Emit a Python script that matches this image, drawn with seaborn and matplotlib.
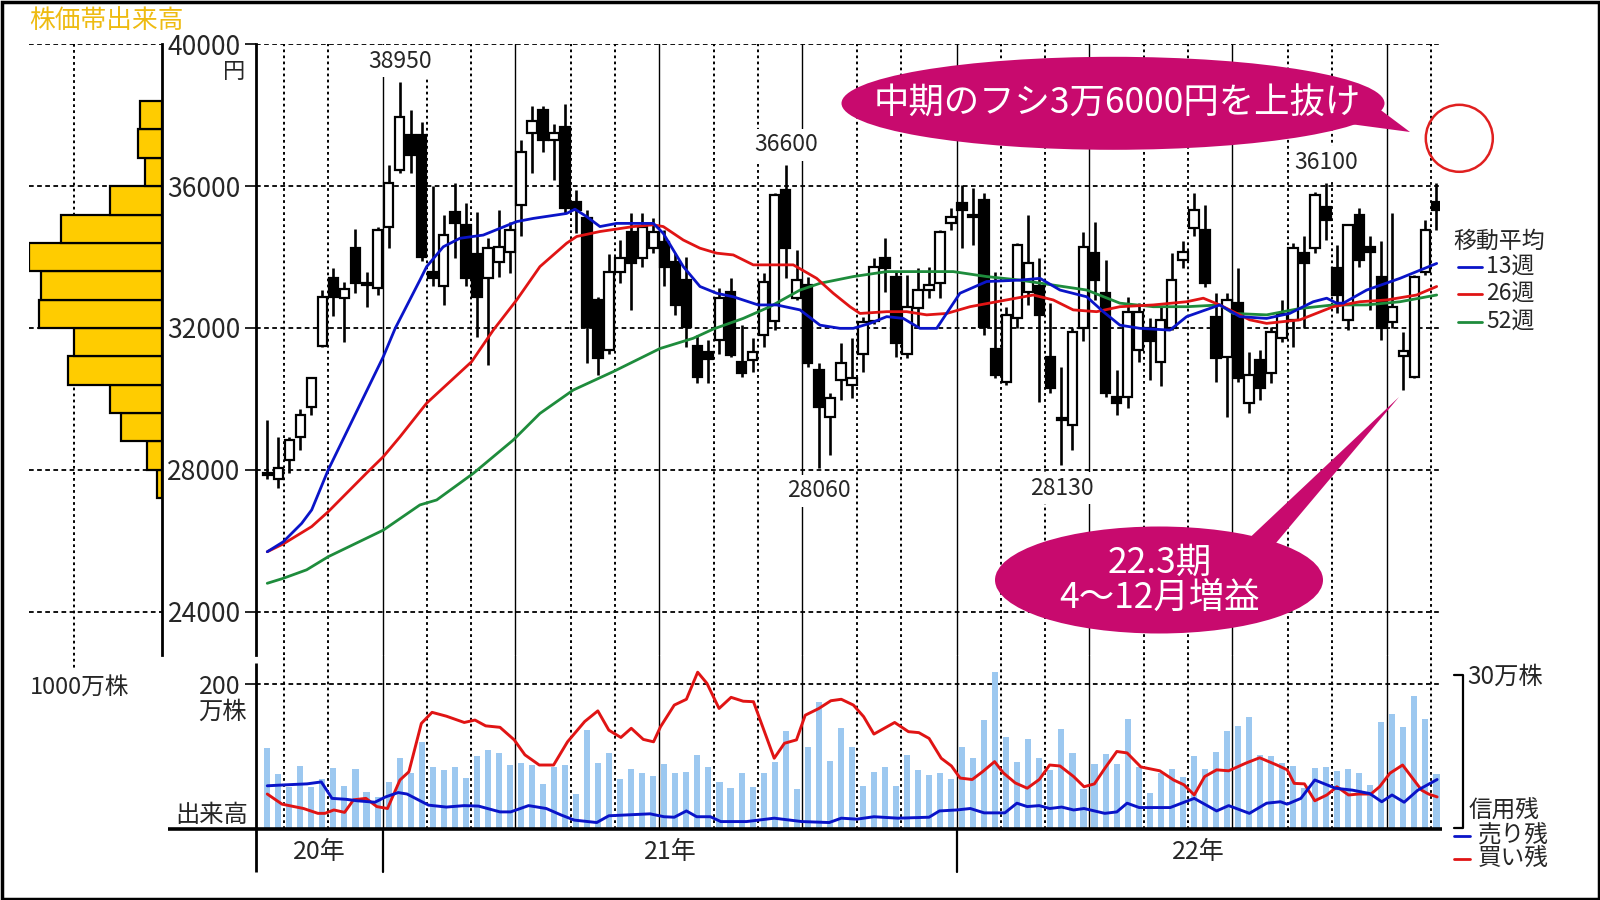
import numpy as np
import matplotlib
matplotlib.use('Agg')
import matplotlib.pyplot as plt
import seaborn as sns
from matplotlib.patches import Ellipse, Polygon, Circle, Rectangle

sns.set_theme(style='white')
plt.rcParams['font.family'] = ['Noto Sans CJK JP', 'DejaVu Sans']

# ---- weekly candles (yen) ----
opens = [27900, 27730, 28280, 28930, 29780, 31490, 33400, 32850, 34250, 33250,
         33120, 34860, 36450, 37440, 37440, 33590, 33170, 35280, 34900, 34100,
         33400, 33870, 34150, 35470, 37490, 38150, 37300, 37680, 35560, 35090,
         32780, 31370, 33590, 34720, 33970, 34250, 34430, 33870, 33350, 31480,
         31320, 31660, 33020, 31040, 31100, 31800, 32190, 35890, 32840, 33210,
         30820, 29500, 30530, 30390, 31280, 32200, 33970, 33450, 31280, 32560,
         33070, 33260, 34950, 35520, 35150, 35610, 31420, 30490, 32270, 33020,
         33170, 31190, 29420, 29260, 32000, 34110, 32980, 30060, 30060, 31370,
         31990, 31050, 32000, 33920, 34810, 34770, 32320, 31190, 32700, 29880,
         31100, 30720, 31710, 32230, 34110, 34250, 35420, 33680, 32230, 35190,
         34290, 33450, 32180, 31200, 30620, 33590, 35560]
highs = [29400, 28930, 28930, 29710, 30610, 33070, 33680, 33300, 34780, 33590,
         34860, 36600, 38950, 38150, 37820, 35990, 35190, 36080, 35520, 35280,
         34530, 35330, 35000, 37300, 38260, 38260, 37750, 38320, 35890, 35330,
         32880, 34100, 34480, 35230, 35230, 35090, 34760, 34110, 34000, 31800,
         31660, 33120, 33400, 32090, 31710, 33540, 35800, 36600, 34200, 33450,
         31000, 30160, 31570, 31710, 32320, 33970, 34530, 33600, 33500, 33680,
         33730, 34765, 35380, 36030, 35940, 35800, 33590, 32600, 34400, 35190,
         33970, 32700, 30910, 32000, 34720, 34980, 33920, 30820, 32880, 32700,
         32270, 32600, 34110, 34440, 35800, 35470, 32980, 33000, 33680, 31330,
         31370, 32040, 32800, 34400, 34580, 35840, 36100, 34340, 34900, 35380,
         34580, 34440, 35230, 31900, 33500, 35050, 36080]
lows = [27750, 27480, 27900, 28560, 29550, 31450, 32350, 31610, 32980, 32600,
        32930, 34250, 36360, 36360, 33900, 33170, 32650, 33970, 33170, 31750,
        30960, 33450, 33540, 34580, 36360, 36970, 36170, 35230, 34670, 31020,
        30670, 31280, 33260, 32510, 33730, 34110, 33170, 32370, 31470, 30440,
        30440, 31280, 31190, 30620, 30770, 31470, 31950, 33400, 32780, 30900,
        28060, 28420, 29970, 30020, 30770, 32100, 33020, 31190, 31150, 32000,
        32840, 32840, 34770, 34250, 34340, 31800, 30600, 30400, 32000, 32650,
        29900, 30160, 28130, 28560, 31620, 32800, 30060, 29550, 29740, 31050,
        30530, 30350, 31950, 33680, 34580, 33150, 30490, 29500, 30490, 29590,
        29970, 30440, 31600, 31470, 32000, 34110, 34480, 32410, 31950, 33730,
        32500, 31660, 32000, 30250, 30580, 33500, 34770]
closes = [27850, 28040, 28840, 29550, 30580, 32880, 32880, 33090, 33260, 33200,
          34760, 36100, 37960, 36880, 34010, 33400, 34620, 34950, 33400, 32880,
          34250, 34290, 34760, 36970, 37850, 37300, 37510, 35380, 35330, 32040,
          31150, 33590, 33970, 33820, 34860, 34720, 33730, 32650, 32040, 30620,
          31130, 32840, 31240, 30720, 31330, 33310, 35750, 34250, 33350, 31000,
          29780, 30020, 31000, 30580, 32180, 33730, 33680, 31570, 32600, 33070,
          33210, 34720, 35140, 35330, 35130, 32040, 30670, 32370, 34340, 33820,
          32370, 30300, 29400, 31900, 34290, 33350, 30160, 29880, 32460, 32460,
          31620, 32230, 33350, 34150, 35330, 33260, 31150, 32790, 30580, 30670,
          30300, 31900, 32400, 34250, 33820, 35750, 35050, 32930, 34900, 33920,
          34150, 32000, 32600, 31340, 33450, 34770, 35330]

# weekly volume (万株)
volume = [111.7, 75.9, 58.8, 87.7, 58.8, 70, 84.1, 60.1, 83.2, 52,
          45, 65.7, 98.8, 77.2, 120, 86.3, 81.8, 86.3, 71.2, 101.1,
          109.4, 104.8, 88.7, 91, 88.7, 62.5, 86.3, 88.7, 48.7, 137,
          91.9, 104.8, 69, 83.2, 77.2, 73.5, 89.7, 78.1, 79.4, 102.5,
          85.5, 65.7, 56.6, 77.2, 57.9, 78.1, 93.2, 136, 55.6, 113.1,
          176, 93.8, 139.3, 113.9, 60.1, 79.4, 86.3, 60.1, 102.5, 81.8,
          74.9, 78.1, 69, 113.1, 98.8, 150.8, 217.4, 126.9, 92.4, 124.1,
          98.8, 81.8, 138.3, 104.8, 55.2, 89.7, 103.4, 89.7, 151.7, 86.3,
          49.7, 77.2, 83.2, 72.6, 101.5, 83.2, 107, 135.6, 142.5, 155.3,
          102.5, 101.5, 91.9, 87.7, 56.6, 85, 85.5, 80.4, 83.6, 77.2,
          61.1, 148.4, 159, 140.7, 183.9, 152.1, 75.9]

# moving averages, read at week positions
ma13_w = [0, 1.45, 3.12, 4.03, 5.53, 10.52, 11.6, 13.84, 14.45, 15.96,
          17.47, 19.58, 22.61, 24.12, 27.14, 27.9, 28.96, 30.16, 31.68, 35.0,
          35.9, 37.72, 39.23, 40.74, 42.25, 44.51, 46.18, 48.3, 50.11, 51.92,
          53.13, 54.64, 56.16, 57.66, 59.17, 60.69, 62.8, 65.22, 68.24, 70.06,
          71.87, 74.29, 75.79, 77.3, 79.12, 81.84, 83.35, 86.35, 88.18, 90.6,
          92.69, 94.83, 96.05, 96.95, 97.55, 99.67, 102.69, 106.02]
ma13_v = [25690, 25970, 26490, 26870, 28000, 31190, 31990, 33350, 33730, 34290,
          34530, 34620, 35000, 35090, 35230, 35350, 35140, 34860, 34950, 34950,
          34670, 33730, 33170, 32980, 32880, 32650, 32650, 32510, 32080, 31990,
          31990, 32130, 32320, 32270, 31990, 31990, 32980, 33310, 33350, 33400,
          33070, 32880, 32460, 32080, 31990, 31940, 32320, 32650, 32320, 32270,
          32410, 32740, 32840, 32700, 32700, 33070, 33400, 33820]
ma26_w = [0, 1.45, 4.03, 5.53, 9.01, 10.52, 12.03, 14.45, 18.53, 20.49,
          22.61, 24.72, 27.14, 28.05, 30.16, 33.18, 35.0, 35.9, 37.72, 39.23,
          40.74, 42.25, 44.06, 47.69, 49.81, 51.31, 52.83, 53.74, 56.16, 57.97,
          59.78, 61.6, 63.71, 66.13, 69.45, 71.26, 73.07, 75.19, 77.3, 80.33,
          83.35, 84.86, 86.35, 89.07, 90.6, 93.62, 96.64, 99.06, 101.48, 104.2,
          106.02]
ma26_v = [25690, 25910, 26400, 26820, 27910, 28370, 28930, 29880, 31050, 31940,
          32790, 33730, 34390, 34580, 34720, 34860, 34910, 34860, 34480, 34250,
          34110, 34060, 33780, 33780, 33400, 32980, 32600, 32410, 32460, 32460,
          32370, 32410, 32600, 32740, 32930, 32790, 32510, 32460, 32600, 32650,
          32740, 32840, 32650, 32230, 32130, 32230, 32600, 32740, 32790, 32930,
          33170]
ma52_w = [0, 1.45, 3.57, 5.53, 10.52, 13.84, 15.36, 18.68, 22.3, 24.72,
          27.74, 31.37, 35.6, 38.62, 40.44, 43.15, 45.57, 48.3, 50.11, 53.13,
          56.16, 62.19, 65.22, 68.24, 71.26, 74.29, 77.3, 80.33, 83.35, 86.35,
          87.58, 90.6, 93.62, 96.64, 99.67, 102.69, 106.02]
ma52_v = [24800, 24940, 25180, 25550, 26300, 27010, 27150, 27900, 28840, 29590,
          30250, 30770, 31420, 31710, 31970, 32270, 32600, 33070, 33260, 33450,
          33590, 33590, 33450, 33350, 33210, 33070, 32700, 32600, 32600, 32650,
          32410, 32370, 32550, 32650, 32650, 32740, 32930]

# margin balances (万株)
buy_w = [0, 1.34, 3.29, 4.59, 5.23, 6.04, 7.01, 7.82, 8.95, 9.93,
         10.9, 12.03, 12.84, 13.97, 14.94, 16.24, 17.86, 18.83, 19.8, 21.1,
         22.39, 23.36, 24.66, 25.96, 27.22, 28.78, 29.97, 30.97, 32.06, 33.0,
         34.09, 35.02, 35.65, 36.9, 38.0, 39.02, 39.86, 40.96, 42.05, 43.15,
         44.08, 45.96, 46.89, 47.98, 48.77, 50.01, 51.1, 52.04, 53.14, 54.07,
         55.0, 56.88, 58.13, 59.07, 60.0, 61.1, 62.03, 62.81, 63.91, 64.84,
         65.94, 66.72, 67.81, 68.9, 69.99, 70.93, 71.87, 73.11, 74.05, 74.99,
         75.93, 77.02, 77.95, 79.2, 80.92, 82.17, 83.11, 84.04, 84.98, 86.07,
         87.16, 88.73, 89.97, 91.53, 92.47, 93.1, 94.03, 94.97, 96.06, 96.97,
         98.03, 98.97, 100.06, 100.84, 101.78, 102.93, 104.65, 105.28, 106.06]
buy_v = [7.3, 5.2, 4.3, 3.3, 3.3, 4.0, 3.5, 6.1, 6.4, 4.7,
         4.3, 10.2, 11.9, 21.9, 24.2, 23.4, 22.1, 22.6, 21.4, 21.1,
         18.5, 15.4, 13.3, 13.3, 18.1, 22.3, 24.5, 20.5, 19.0, 20.9,
         18.6, 18.1, 21.2, 25.7, 26.9, 32.5, 30.2, 25.0, 27.3, 26.5,
         26.4, 14.7, 17.8, 18.5, 23.6, 25.0, 26.6, 26.9, 25.7, 23.3,
         19.7, 22.1, 20.2, 20.0, 18.8, 14.7, 13.1, 10.6, 10.3, 11.9,
         14.0, 11.7, 9.6, 8.5, 10.3, 13.3, 13.1, 10.9, 8.8, 9.4,
         12.6, 16.1, 15.8, 12.9, 12.1, 10.2, 9.2, 7.1, 10.9, 12.3,
         12.1, 13.7, 14.8, 13.3, 12.3, 9.5, 9.4, 5.9, 7.1, 8.8,
         7.1, 7.3, 7.3, 8.8, 11.6, 13.3, 8.1, 7.3, 6.7]
sell_w = [0, 1.67, 3.61, 4.9, 5.87, 7.17, 8.14, 9.76, 10.73, 11.87,
          12.67, 14.62, 16.24, 17.86, 19.16, 21.1, 22.07, 23.69, 25.3, 26.6,
          27.84, 29.87, 30.97, 32.84, 34.71, 35.97, 36.9, 38.0, 38.93, 40.18,
          41.11, 43.45, 45.96, 48.45, 50.95, 52.04, 53.45, 55.0, 57.19, 60.0,
          60.94, 62.5, 63.74, 64.99, 66.87, 67.96, 68.9, 69.99, 70.93, 72.02,
          73.11, 74.05, 75.93, 77.02, 77.95, 79.05, 81.86, 84.04, 86.07, 87.16,
          89.04, 90.6, 91.85, 92.47, 93.71, 94.97, 96.83, 98.38, 99.94, 101.04,
          101.97, 103.07, 104.31, 106.06]
sell_v = [9.0, 9.2, 9.4, 9.8, 6.4, 6.2, 5.9, 5.6, 6.7, 7.6,
          7.3, 5.0, 4.6, 4.9, 4.8, 3.6, 3.6, 4.9, 4.3, 3.0,
          1.9, 1.4, 2.8, 3.0, 3.2, 2.6, 2.5, 3.8, 2.6, 2.6,
          1.6, 1.6, 2.3, 1.6, 1.4, 2.3, 2.1, 2.6, 2.3, 2.5,
          3.8, 4.0, 4.3, 3.4, 3.4, 5.4, 4.7, 4.9, 4.3, 4.6,
          4.0, 4.3, 3.3, 3.6, 5.4, 4.5, 4.5, 6.4, 3.8, 4.9,
          3.3, 5.4, 5.7, 5.2, 6.4, 10.2, 8.5, 8.1, 7.4, 5.7,
          7.1, 5.6, 8.1, 10.3]

# price band volume (万株), 800 yen bands
band_mid = [38000, 37200, 36400, 35600, 34800, 34000, 33200, 32400,
            31600, 30800, 30000, 29200, 28400, 27600]
band_vol = [250, 276, 190, 591, 1148, 1508, 1378, 1398,
            1000, 1072, 591, 469, 174, 60]

price_ticks = [24000, 28000, 32000, 36000, 40000]
month_breaks = [1.5, 5.5, 10.5, 14.5, 18.5, 22.5, 27.5, 31.5, 35.5, 40.5,
                44.5, 48.5, 53.5, 57.5, 62.5, 66.5, 70.5, 74.5, 79.5, 83.5,
                87.5, 92.5, 96.5, 101.5, 105.5]
quarter_breaks = [10.5, 22.5, 35.5, 48.5, 62.5, 74.5, 87.5, 101.5]
year_breaks = [10.5, 62.5]
year_labels = ['20年', '21年', '22年']
peak_idx = [12, 47, 96]
trough_idx = [50, 72]

BLUE = '#0A14C8'
RED = '#E01414'
GREEN = '#1E8C3C'
GOLD = '#FFCC00'
VOLC = '#9CC8F0'
MAG = '#C80A6E'

W, H = 1600, 900
XL = (-1.02, 106.32)
PY = (22778, 40000)


def rect(x0, y0, x1, y1):
    return [x0 / W, 1 - y1 / H, (x1 - x0) / W, (y1 - y0) / H]


fig = plt.figure(figsize=(16, 9), dpi=100)
fig.patch.set_facecolor('white')

ax = fig.add_axes(rect(256, 44.3, 1440, 655))
axv = fig.add_axes(rect(256, 655, 1440, 829.3))
axh = fig.add_axes(rect(29.3, 44.3, 162, 655))

grid_kw = dict(color='black', lw=1.3, dashes=(2.6, 1.9))
dot_kw = dict(color='black', lw=1.4, dashes=(1.4, 1.7))

# ---------------- price panel ----------------
for a in (ax, axv):
    for m in month_breaks:
        if m in quarter_breaks:
            a.axvline(m, color='black', lw=1.0, zorder=1)
        else:
            a.axvline(m, zorder=1, **dot_kw)
for p in price_ticks:
    ax.axhline(p, zorder=1, **grid_kw)

idx = np.arange(len(opens))
o = np.array(opens, float)
c = np.array(closes, float)
up = c >= o
body_lo = np.minimum(o, c)
body_h = np.maximum(np.abs(c - o), 60)
ax.vlines(idx, lows, highs, color='black', lw=1.9, zorder=3)
ax.bar(idx[up], body_h[up], bottom=body_lo[up], width=0.86, color='white',
       edgecolor='black', linewidth=1.6, zorder=4)
ax.bar(idx[~up], body_h[~up], bottom=body_lo[~up], width=0.86, color='black',
       edgecolor='black', linewidth=1.6, zorder=4)

sns.lineplot(x=ma52_w, y=ma52_v, color=GREEN, lw=2.0, sort=False, estimator=None, ax=ax, zorder=5)
sns.lineplot(x=ma26_w, y=ma26_v, color=RED, lw=2.0, sort=False, estimator=None, ax=ax, zorder=5)
sns.lineplot(x=ma13_w, y=ma13_v, color=BLUE, lw=2.0, sort=False, estimator=None, ax=ax, zorder=5)

lab_kw = dict(textcoords='offset points', ha='center', va='center', fontsize=16.5, zorder=8,
              bbox=dict(boxstyle='square,pad=0.2', fc='white', ec='none'))
for i in peak_idx:
    ax.annotate(str(highs[i]), (i, highs[i]), xytext=(0, 14.5), **lab_kw)
for i in trough_idx:
    ax.annotate(str(lows[i]), (i, lows[i]), xytext=(0, -16.5), **lab_kw)

ax.set_xlim(*XL)
ax.set_ylim(*PY)
ax.set_xticks([])
ax.set_yticks(price_ticks)
ax.set_yticklabels([str(p) for p in price_ticks])
ax.tick_params(axis='y', length=8, width=1.4, labelsize=19, pad=3, left=True)
for s in ('top', 'right', 'bottom'):
    ax.spines[s].set_visible(False)
ax.spines['left'].set_linewidth(2.0)
ax.spines['left'].set_color('black')
ax.set_facecolor('none')
ax.set_xlabel('')
ax.set_ylabel('')

# ---------------- price band volume ----------------
for p in price_ticks:
    axh.axhline(p, zorder=1, **grid_kw)
axh.plot([1000, 1000], [1, -0.0213], transform=axh.get_xaxis_transform(), clip_on=False, **dot_kw)
sns.barplot(x=band_vol, y=band_mid, orient='y', native_scale=True, width=1.0, color=GOLD,
            saturation=1, edgecolor='black', linewidth=1.6, ax=axh, zorder=3)
axh.set_xlim(1508, 0)
axh.set_ylim(*PY)
axh.set_xticks([])
axh.set_yticks([])
axh.set_xlabel('')
axh.set_ylabel('')
for s in ('top', 'left', 'bottom'):
    axh.spines[s].set_visible(False)
axh.spines['right'].set_linewidth(2.0)
axh.spines['right'].set_color('black')
axh.set_facecolor('none')

# ---------------- volume + margin panel ----------------
sns.barplot(x=list(idx), y=volume, color=VOLC, saturation=1, width=0.55, linewidth=0, ax=axv, zorder=2)
axv.axhline(200, zorder=1, **grid_kw)
axv.set_xlim(*XL)
axv.set_ylim(0, 240.4)
axv.set_xticks([])
axv.set_yticks([200])
axv.set_yticklabels(['200'])
axv.tick_params(axis='y', length=8, width=1.4, labelsize=18, pad=3, left=True)
for s in axv.spines.values():
    s.set_visible(False)
axv.set_facecolor('none')
axv.set_xlabel('')
axv.set_ylabel('')
for yb in year_breaks:
    axv.plot([yb, yb], [0, -0.245], transform=axv.get_xaxis_transform(), color='black',
             lw=1.6, clip_on=False)
edges = [XL[0]] + year_breaks + [XL[1]]
for k, lab in enumerate(year_labels):
    axv.text((edges[k] + edges[k + 1]) / 2, -0.13, lab, transform=axv.get_xaxis_transform(),
             ha='center', va='center', fontsize=18)

axm = axv.twinx()
sns.lineplot(x=buy_w, y=buy_v, color=RED, lw=2.1, sort=False, estimator=None, ax=axm)
sns.lineplot(x=sell_w, y=sell_v, color=BLUE, lw=2.1, sort=False, estimator=None, ax=axm)
axm.set_ylim(0, 36.06)
axm.set_xlim(*XL)
axm.set_yticks([])
axm.set_ylabel('')
for s in axm.spines.values():
    s.set_visible(False)

# ---------------- overlay: labels, callouts, frame ----------------
ov = fig.add_axes([0, 0, 1, 1])
ov.set_xlim(0, W)
ov.set_ylim(H, 0)
ov.set_axis_off()

ov.text(29, 21, '株価帯出来高', color='#EEBB11', fontsize=18.5, ha='left', va='center')
ov.text(245, 72, '円', fontsize=16, ha='right', va='center')
ov.text(80, 687, '1000万株', fontsize=17, ha='center', va='center')
ov.text(247, 712, '万株', fontsize=17.5, ha='right', va='center')
ov.text(248, 815, '出来高', fontsize=17.5, ha='right', va='center')

ov.plot([168, 1442], [829.3, 829.3], color='black', lw=2.6, solid_capstyle='butt')
ov.plot([256, 256], [663, 872], color='black', lw=2.0, solid_capstyle='butt')

# moving average legend
ov.text(1453, 241, '移動平均', fontsize=16.5, ha='left', va='center')
for yy, col, lab in [(267, BLUE, '13週'), (294, RED, '26週'), (322, GREEN, '52週')]:
    ov.plot([1458, 1482], [yy, yy], color=col, lw=2.0)
    ov.text(1486, yy, lab, fontsize=16.5, ha='left', va='center')

# margin legend
ov.plot([1454, 1463, 1463, 1454], [675, 675, 828, 828], color='black', lw=1.6)
ov.text(1467, 677, '30万株', fontsize=17.5, ha='left', va='center')
ov.text(1469, 811, '信用残', fontsize=17, ha='left', va='center')
ov.plot([1454, 1470], [836, 836], color=BLUE, lw=2.0)
ov.text(1478, 836, '売り残', fontsize=17, ha='left', va='center')
ov.plot([1454, 1470], [859, 859], color=RED, lw=2.0)
ov.text(1478, 859, '買い残', fontsize=17, ha='left', va='center')

# callout 1
ov.add_patch(Polygon([(1335, 122), (1378, 108), (1410, 132)], closed=True, fc=MAG, ec='none', zorder=6))
ov.add_patch(Ellipse((1113, 103.3), 543, 93, fc=MAG, ec='none', zorder=6))
ov.text(1117, 104, '中期のフシ3万6000円を上抜け', color='white', fontsize=25.5,
        ha='center', va='center', zorder=7)
ov.add_patch(Circle((1459.3, 138.3), 33.5, fill=False, ec='#E02020', lw=1.8, zorder=6))

# callout 2
ov.add_patch(Polygon([(1242, 545), (1276, 543), (1399, 397)], closed=True, fc=MAG, ec='none', zorder=6))
ov.add_patch(Ellipse((1159, 580), 328, 107, fc=MAG, ec='none', zorder=6))
ov.text(1160, 563, '22.3期', color='white', fontsize=25.5, ha='center', va='center', zorder=7)
ov.text(1160, 598, '4～12月増益', color='white', fontsize=25.5, ha='center', va='center', zorder=7)

ov.add_patch(Rectangle((1.5, 1.5), 1597, 897, fill=False, ec='black', lw=2.5, zorder=9))

fig.savefig('out.png', dpi=100)
